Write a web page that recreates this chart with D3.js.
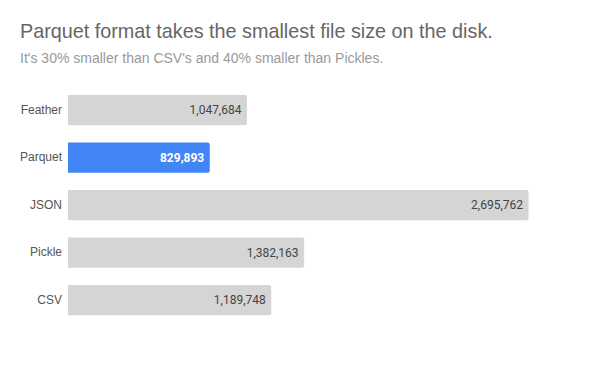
<!DOCTYPE html>
<html>
<head>
<meta charset="utf-8">
<script src="https://cdn.jsdelivr.net/npm/d3@7"></script>
<style>
  body { margin: 0; background: #fff; }
</style>
</head>
<body>
<svg></svg>
<script>
let formats = ['Feather', 'Parquet', 'JSON', 'Pickle', 'CSV'];
let sizes = [1047684, 829893, 2695762, 1382163, 1189748];
let highlight = 'Parquet';

let width = 600;
let height = 371;

let svg = d3.select('svg').attr('width', width).attr('height', height);

let xScale = d3.scaleLinear().domain([0, d3.max(sizes)]).range([68, 528.5]);
let yScale = d3.scaleBand().domain(formats).range([86.4, 323.9]).paddingInner(0.36).paddingOuter(0.18);

svg.append('text').
attr('x', 20).attr('y', 38).
style('font-family', 'Liberation Sans, Arial, sans-serif').
style('font-size', '19.8px').
attr('fill', '#666').
text('Parquet format takes the smallest file size on the disk.');

svg.append('text').
attr('x', 20).attr('y', 63).
style('font-family', 'Liberation Sans, Arial, sans-serif').
style('font-size', '14px').
attr('fill', '#999').
text("It's 30% smaller than CSV's and 40% smaller than Pickles.");

let rows = formats.map((f, i) => ({ name: f, value: sizes[i] }));

// bars with slightly rounded right side
svg.selectAll('path.bar').
data(rows).
enter().
append('path').
attr('class', 'bar').
attr('d', d => {
  let x0 = xScale(0), x1 = xScale(d.value), y0 = yScale(d.name), h = yScale.bandwidth(), r = 2;
  return 'M' + x0 + ',' + y0 + 'H' + (x1 - r) + 'Q' + x1 + ',' + y0 + ' ' + x1 + ',' + (y0 + r) +
  'V' + (y0 + h - r) + 'Q' + x1 + ',' + (y0 + h) + ' ' + (x1 - r) + ',' + (y0 + h) + 'H' + x0 + 'Z';
}).
attr('fill', d => d.name === highlight ? '#4285f4' : '#d5d5d5');

svg.selectAll('text.value').
data(rows).
enter().
append('text').
attr('class', 'value').
attr('x', d => xScale(d.value) - 5.5).
attr('y', d => yScale(d.name) + yScale.bandwidth() / 2).
attr('dy', '0.35em').
attr('text-anchor', 'end').
style('font-family', 'Roboto, sans-serif').
style('font-size', '12px').
style('font-weight', d => d.name === highlight ? 'bold' : 'normal').
attr('fill', d => d.name === highlight ? '#fff' : '#444').
text(d => d3.format(',')(d.value));

let yAxis = d3.axisLeft(yScale).tickSize(0).tickPadding(6);
let axisG = svg.append('g').
attr('transform', 'translate(' + xScale(0) + ',0)').
call(yAxis);
axisG.select('.domain').remove();
axisG.selectAll('text').
style('font-family', 'Liberation Sans, Arial, sans-serif').
style('font-size', '12px').
attr('fill', '#555');
</script>
</body>
</html>
